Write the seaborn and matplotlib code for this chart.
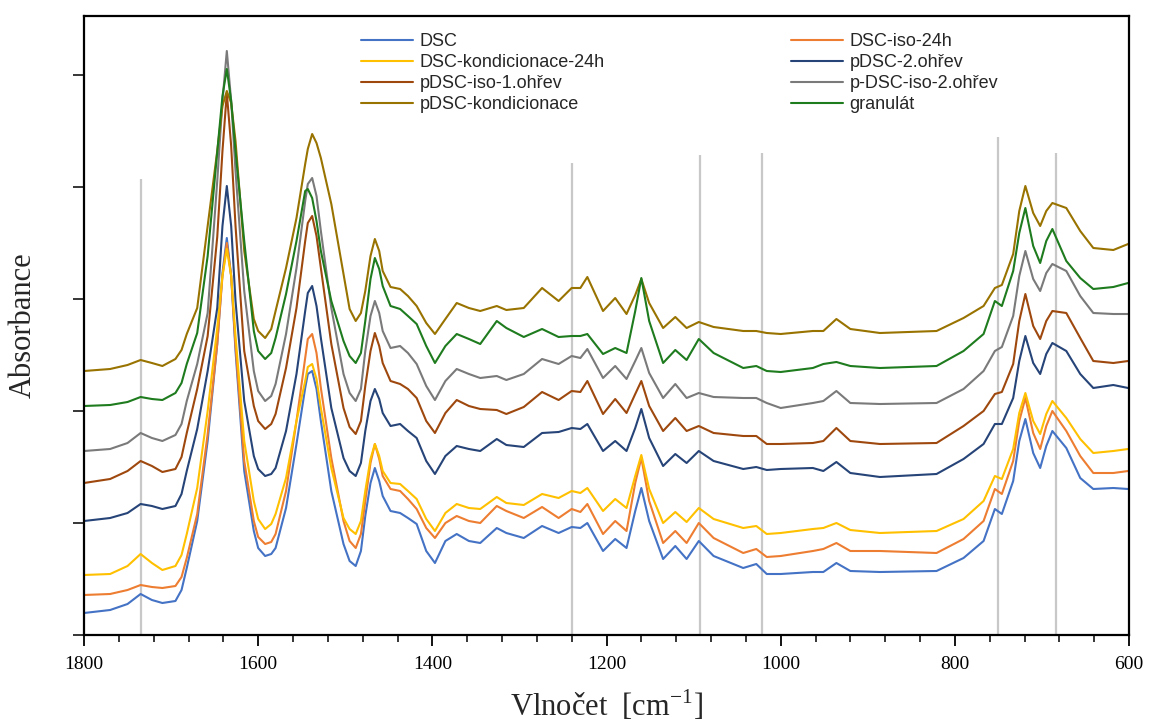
import matplotlib
matplotlib.use("Agg")
import matplotlib.pyplot as plt
from matplotlib.lines import Line2D
from matplotlib.ticker import MultipleLocator
import pandas as pd
import seaborn as sns

# ---------------- data (absorbance, offset-stacked, milli-units) ----------------
wavenumber = [1800, 1770, 1750, 1735, 1722, 1710, 1695, 1688, 1682, 1670,
              1658, 1647, 1641, 1636, 1631, 1626, 1616, 1605, 1600, 1592,
              1585, 1580, 1568, 1556, 1546, 1543, 1538, 1533, 1528, 1516,
              1502, 1495, 1488, 1482, 1477, 1471, 1466, 1461, 1457, 1448,
              1437, 1428, 1418, 1407, 1397, 1385, 1372, 1358, 1345, 1326,
              1315, 1295, 1274, 1255, 1240, 1230, 1222, 1204, 1190, 1177,
              1167, 1160, 1151, 1135, 1121, 1108, 1094, 1077, 1043, 1028,
              1016, 1000, 963, 951, 936, 920, 886, 821, 790, 767,
              754, 746, 733, 726, 719, 710, 702, 695, 688, 672,
              656, 641, 618, 601]

dsc = [22, 25, 31, 41, 35, 32, 34, 45, 67, 114,
       194, 291, 362, 397, 359, 284, 164, 104, 87, 79,
       81, 87, 127, 191, 247, 261, 264, 246, 214, 144,
       91, 74, 69, 84, 119, 152, 167, 154, 139, 124,
       122, 117, 111, 84, 72, 94, 101, 94, 92, 107,
       102, 97, 109, 102, 108, 107, 112, 84, 96, 87,
       124, 147, 114, 76, 89, 76, 94, 79, 67, 71,
       61, 61, 63, 63, 72, 64, 63, 64, 77, 94,
       126, 121, 154, 194, 216, 182, 167, 189, 204, 187,
       157, 146, 147, 146]

dsc_iso_24h = [40, 41, 45, 50, 48, 47, 49, 58, 77, 121,
               201, 291, 359, 392, 359, 289, 174, 114, 98, 91,
               93, 101, 144, 214, 277, 296, 301, 282, 247, 177,
               114, 94, 87, 101, 134, 172, 191, 176, 159, 146,
               144, 136, 126, 107, 97, 112, 119, 114, 112, 129,
               124, 117, 128, 117, 126, 123, 131, 101, 114, 104,
               152, 177, 134, 92, 104, 92, 112, 97, 82, 86,
               78, 79, 84, 86, 92, 84, 84, 82, 96, 114,
               146, 141, 174, 214, 237, 202, 186, 209, 224, 204,
               179, 162, 162, 164]

dsc_kond_24h = [60, 61, 69, 81, 72, 65, 69, 80, 101, 147,
                224, 307, 359, 386, 359, 299, 194, 134, 116, 106,
                111, 121, 157, 214, 254, 268, 271, 256, 227, 167,
                117, 106, 101, 114, 144, 176, 191, 179, 164, 152,
                151, 144, 136, 116, 104, 122, 131, 127, 126, 138,
                132, 130, 141, 137, 144, 142, 147, 124, 136, 127,
                159, 180, 146, 112, 123, 113, 127, 116, 107, 109,
                101, 102, 106, 107, 112, 105, 102, 104, 116, 134,
                159, 156, 186, 222, 242, 214, 201, 221, 234, 217,
                196, 182, 184, 186]

pdsc_2_ohrev = [114, 117, 122, 131, 129, 126, 129, 141, 164, 206,
                264, 327, 409, 449, 409, 334, 234, 179, 166, 159,
                161, 167, 204, 261, 324, 342, 349, 329, 297, 227,
                177, 164, 159, 172, 204, 234, 246, 236, 222, 209,
                211, 204, 197, 174, 161, 179, 189, 186, 184, 196,
                190, 188, 202, 203, 207, 206, 211, 184, 194, 184,
                207, 226, 197, 169, 181, 172, 184, 174, 166, 168,
                165, 166, 167, 164, 173, 162, 158, 161, 176, 191,
                211, 211, 237, 274, 299, 272, 261, 281, 292, 284,
                261, 247, 250, 247]

pdsc_iso_1_ohrev = [152, 156, 164, 174, 169, 163, 166, 178, 202, 246,
                    299, 398, 484, 542, 489, 409, 284, 229, 214, 206,
                    211, 221, 267, 327, 394, 412, 419, 399, 367, 291,
                    227, 208, 201, 214, 249, 284, 302, 289, 272, 254,
                    251, 246, 237, 214, 202, 222, 235, 229, 226, 225,
                    221, 228, 243, 235, 244, 243, 254, 221, 236, 222,
                    241, 254, 229, 204, 217, 204, 209, 202, 199, 199,
                    191, 191, 192, 194, 207, 194, 191, 192, 209, 224,
                    241, 243, 271, 314, 341, 309, 296, 314, 324, 322,
                    297, 274, 272, 274]

p_dsc_iso_2_ohrev = [184, 186, 192, 202, 197, 194, 200, 211, 234, 271,
                     322, 454, 534, 584, 534, 464, 344, 264, 244, 234,
                     239, 251, 301, 367, 434, 451, 457, 439, 404, 327,
                     261, 242, 234, 246, 284, 319, 334, 322, 304, 287,
                     289, 282, 271, 249, 235, 254, 266, 261, 257, 259,
                     255, 261, 276, 271, 279, 277, 286, 257, 269, 256,
                     274, 287, 262, 237, 251, 237, 242, 238, 237, 237,
                     232, 227, 232, 234, 244, 232, 231, 232, 246, 264,
                     284, 288, 319, 359, 384, 356, 344, 362, 371, 364,
                     339, 322, 321, 321]

pdsc_kondicionace = [264, 266, 270, 275, 272, 269, 276, 285, 301, 327,
                     409, 484, 529, 544, 532, 494, 384, 316, 304, 297,
                     306, 324, 367, 417, 471, 486, 501, 492, 477, 431,
                     361, 326, 314, 322, 344, 379, 396, 384, 364, 348,
                     346, 339, 329, 312, 301, 316, 332, 327, 324, 329,
                     325, 327, 347, 334, 347, 347, 358, 324, 337, 321,
                     340, 356, 332, 307, 318, 307, 313, 308, 304, 304,
                     302, 301, 304, 304, 316, 306, 302, 304, 317, 329,
                     347, 350, 381, 424, 449, 422, 409, 424, 432, 427,
                     404, 387, 385, 391]

granulat = [229, 230, 233, 238, 236, 235, 242, 252, 271, 302,
            379, 483, 539, 566, 534, 484, 394, 304, 284, 276,
            282, 297, 341, 394, 444, 446, 437, 414, 384, 334,
            294, 279, 272, 282, 314, 356, 377, 366, 349, 329,
            326, 319, 311, 289, 272, 289, 301, 296, 291, 314,
            307, 298, 306, 298, 299, 299, 301, 281, 287, 282,
            324, 357, 314, 272, 285, 275, 296, 282, 267, 269,
            264, 263, 267, 271, 273, 269, 267, 269, 284, 301,
            334, 329, 364, 402, 427, 389, 372, 394, 406, 374,
            357, 346, 348, 352]

labels = ["DSC", "DSC-iso-24h", "DSC-kondicionace-24h", "pDSC-2.ohřev",
          "pDSC-iso-1.ohřev", "p-DSC-iso-2.ohřev", "pDSC-kondicionace", "granulát"]
series = [dsc, dsc_iso_24h, dsc_kond_24h, pdsc_2_ohrev,
          pdsc_iso_1_ohrev, p_dsc_iso_2_ohrev, pdsc_kondicionace, granulat]
colors = ["#4472C4", "#ED7D31", "#FFC000", "#264478",
          "#9E480E", "#7A7A7A", "#997300", "#1E7B1E"]

# reference band positions (vertical guide lines) and their top heights
band_wn = [1735, 1240, 1093, 1022, 751, 684]
band_top = [456, 472, 480, 482, 498, 482]

x_major = [1800, 1600, 1400, 1200, 1000, 800, 600]

# ---------------- build long table ----------------
frames = []
for lab, vals in zip(labels, series):
    frames.append(pd.DataFrame({"wavenumber": wavenumber, "absorbance": vals, "sample": lab}))
df = pd.concat(frames, ignore_index=True)

# ---------------- plot ----------------
sns.set_style("ticks")
plt.rcParams["font.family"] = ["Liberation Serif", "DejaVu Serif"]
plt.rcParams["mathtext.fontset"] = "custom"
plt.rcParams["mathtext.rm"] = "Liberation Serif"

W, H = 1152, 722
fig = plt.figure(figsize=(W / 100, H / 100), dpi=100)
L, R, T, B = 84, 1129, 16, 635
ax = fig.add_axes([L / W, 1 - B / H, (R - L) / W, (B - T) / H])

ax.vlines(band_wn, 0, band_top, color="#C8C8C8", lw=1.6, zorder=1)

sns.lineplot(data=df, x="wavenumber", y="absorbance", hue="sample",
             hue_order=labels, palette=colors, sort=False, estimator=None,
             lw=1.5, legend=False, ax=ax, zorder=2)
for ln in ax.get_lines():
    ln.set_solid_joinstyle("round")

ax.set_xlim(1800, 600)
ax.set_ylim(0, 619)
ax.set_xticks(x_major)
ax.set_xticklabels([str(v) for v in x_major])
ax.xaxis.set_minor_locator(MultipleLocator(40))
ax.set_yticks([0, 112, 224, 336, 448, 560])
ax.set_yticklabels([])

ax.tick_params(axis="x", which="major", direction="out", length=8, width=1.3,
               pad=7, labelsize=14, colors="black")
ax.tick_params(axis="x", which="minor", direction="out", length=5, width=1.3)
ax.tick_params(axis="y", which="major", direction="out", length=8, width=1.3,
               labelleft=False)

for s in ax.spines.values():
    s.set_visible(True)
    s.set_color("black")
    s.set_linewidth(1.6)

ax.set_xlabel(r"Vlnočet  [cm$^{\mathregular{-1}}$]", fontsize=22, labelpad=11)
ax.set_ylabel("Absorbance", fontsize=22, labelpad=25)

# legend: two columns, row-wise order as in the reference
order = [0, 2, 4, 6, 1, 3, 5, 7]
handles = [Line2D([], [], color=colors[i], lw=1.5) for i in order]
leg_labels = [labels[i] for i in order]
leg = ax.legend(handles, leg_labels, ncol=2, loc="upper left",
                bbox_to_anchor=(0.265, 0.972), frameon=False,
                prop={"family": ["Liberation Sans Narrow", "Liberation Sans", "DejaVu Sans"], "size": 13},
                handlelength=2.9, handletextpad=0.35, columnspacing=10.3,
                labelspacing=0.22, borderpad=0.0, borderaxespad=0.0)

fig.savefig("out.png", dpi=100)
